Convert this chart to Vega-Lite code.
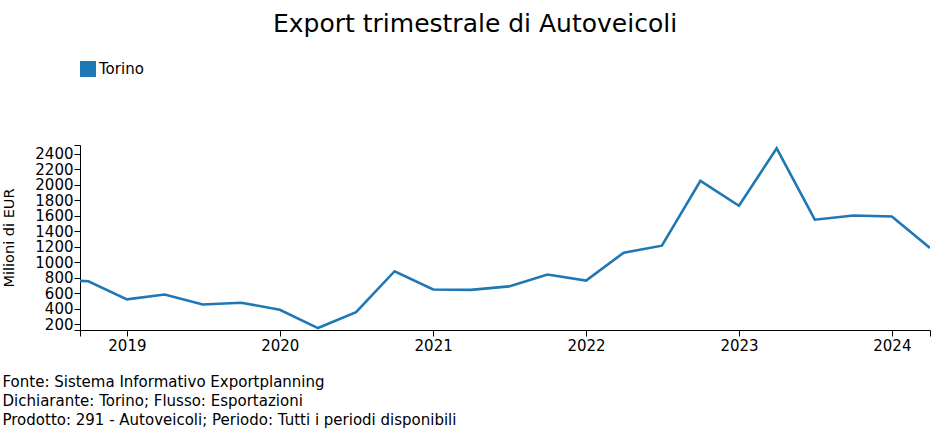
{
  "$schema": "https://vega.github.io/schema/vega-lite/v6.json",
  "width": 850,
  "height": 185,
  "autosize": {"type": "none"},
  "padding": {"left": 80, "top": 145, "right": 20, "bottom": 105},
  "background": "white",
  "config": {
    "font": "DejaVu Sans",
    "view": {"stroke": null},
    "axis": {"grid": false, "domainColor": "black", "tickColor": "black", "labelColor": "black", "titleColor": "black", "labelFont": "DejaVu Sans", "titleFont": "DejaVu Sans", "labelFontSize": 15, "tickSize": 6, "domainWidth": 1, "tickWidth": 1}
  },
  "title": {
    "text": "Export trimestrale di Autoveicoli",
    "anchor": "start",
    "frame": "group",
    "dx": 193,
    "font": "DejaVu Sans",
    "fontSize": 25,
    "fontWeight": "normal",
    "color": "black",
    "offset": 24
  },
  "data": {
    "values": [
      {"date": "2018-07-01", "value": 775, "series": "Torino"},
      {"date": "2018-10-01", "value": 757, "series": "Torino"},
      {"date": "2019-01-01", "value": 522, "series": "Torino"},
      {"date": "2019-04-01", "value": 586, "series": "Torino"},
      {"date": "2019-07-01", "value": 457, "series": "Torino"},
      {"date": "2019-10-01", "value": 479, "series": "Torino"},
      {"date": "2020-01-01", "value": 389, "series": "Torino"},
      {"date": "2020-04-01", "value": 152, "series": "Torino"},
      {"date": "2020-07-01", "value": 358, "series": "Torino"},
      {"date": "2020-10-01", "value": 886, "series": "Torino"},
      {"date": "2021-01-01", "value": 650, "series": "Torino"},
      {"date": "2021-04-01", "value": 645, "series": "Torino"},
      {"date": "2021-07-01", "value": 690, "series": "Torino"},
      {"date": "2021-10-01", "value": 843, "series": "Torino"},
      {"date": "2022-01-01", "value": 766, "series": "Torino"},
      {"date": "2022-04-01", "value": 1126, "series": "Torino"},
      {"date": "2022-07-01", "value": 1216, "series": "Torino"},
      {"date": "2022-10-01", "value": 2052, "series": "Torino"},
      {"date": "2023-01-01", "value": 1731, "series": "Torino"},
      {"date": "2023-04-01", "value": 2473, "series": "Torino"},
      {"date": "2023-07-01", "value": 1551, "series": "Torino"},
      {"date": "2023-10-01", "value": 1606, "series": "Torino"},
      {"date": "2024-01-01", "value": 1593, "series": "Torino"},
      {"date": "2024-04-01", "value": 1187, "series": "Torino"}
    ]
  },
  "mark": {"type": "line", "strokeWidth": 2.6, "clip": true},
  "encoding": {
    "x": {
      "field": "date",
      "type": "temporal",
      "scale": {"type": "utc", "domain": [{"year": 2018, "month": 9, "date": 11, "utc": true}, {"year": 2024, "month": 4, "date": 1, "utc": true}]},
      "axis": {
        "values": [
          {"year": 2018, "month": 9, "date": 11, "utc": true},
          {"year": 2019, "month": 1, "date": 1, "utc": true},
          {"year": 2020, "month": 1, "date": 1, "utc": true},
          {"year": 2021, "month": 1, "date": 1, "utc": true},
          {"year": 2022, "month": 1, "date": 1, "utc": true},
          {"year": 2023, "month": 1, "date": 1, "utc": true},
          {"year": 2024, "month": 1, "date": 1, "utc": true},
          {"year": 2024, "month": 4, "date": 1, "utc": true}
        ],
        "labelExpr": "(utcmonth(datum.value) == 0 && utcdate(datum.value) == 1) ? utcFormat(datum.value, '%Y') : ''",
        "labelPadding": 2,
        "labelFlush": false,
        "labelOverlap": false,
        "title": ["Fonte: Sistema Informativo Exportplanning", "Dichiarante: Torino; Flusso: Esportazioni", "Prodotto: 291 - Autoveicoli; Periodo: Tutti i periodi disponibili"],
        "titleX": -78,
        "titleY": 56,
        "titleAlign": "left",
        "titleAnchor": "start",
        "titleBaseline": "alphabetic",
        "titleFontSize": 15,
        "titleFontWeight": "normal",
        "titleLineHeight": 19
      }
    },
    "y": {
      "field": "value",
      "type": "quantitative",
      "scale": {"domain": [127, 2516], "nice": false, "zero": false},
      "axis": {
        "values": [127, 200, 400, 600, 800, 1000, 1200, 1400, 1600, 1800, 2000, 2200, 2400, 2516],
        "format": "d",
        "labelExpr": "datum.value % 200 === 0 ? datum.label : ''",
        "labelPadding": 1,
        "labelOverlap": false,
        "labelFlush": false,
        "labelBaseline": "middle",
        "title": "Milioni di EUR",
        "titleX": -71,
        "titleY": 92.5,
        "titleAngle": -90,
        "titleAlign": "center",
        "titleBaseline": "middle",
        "titleFontSize": 14.5,
        "titleFontWeight": "normal"
      }
    },
    "color": {
      "field": "series",
      "type": "nominal",
      "scale": {"domain": ["Torino"], "range": ["#1f77b4"]},
      "legend": {
        "orient": "none",
        "legendX": 0,
        "legendY": -84,
        "title": null,
        "symbolType": "square",
        "symbolSize": 256,
        "symbolStrokeWidth": 0,
        "symbolFillColor": "#1f77b4",
        "symbolOpacity": 1,
        "labelFontSize": 15,
        "labelColor": "black",
        "labelFont": "DejaVu Sans",
        "labelOffset": 3,
        "padding": 0
      }
    }
  }
}
